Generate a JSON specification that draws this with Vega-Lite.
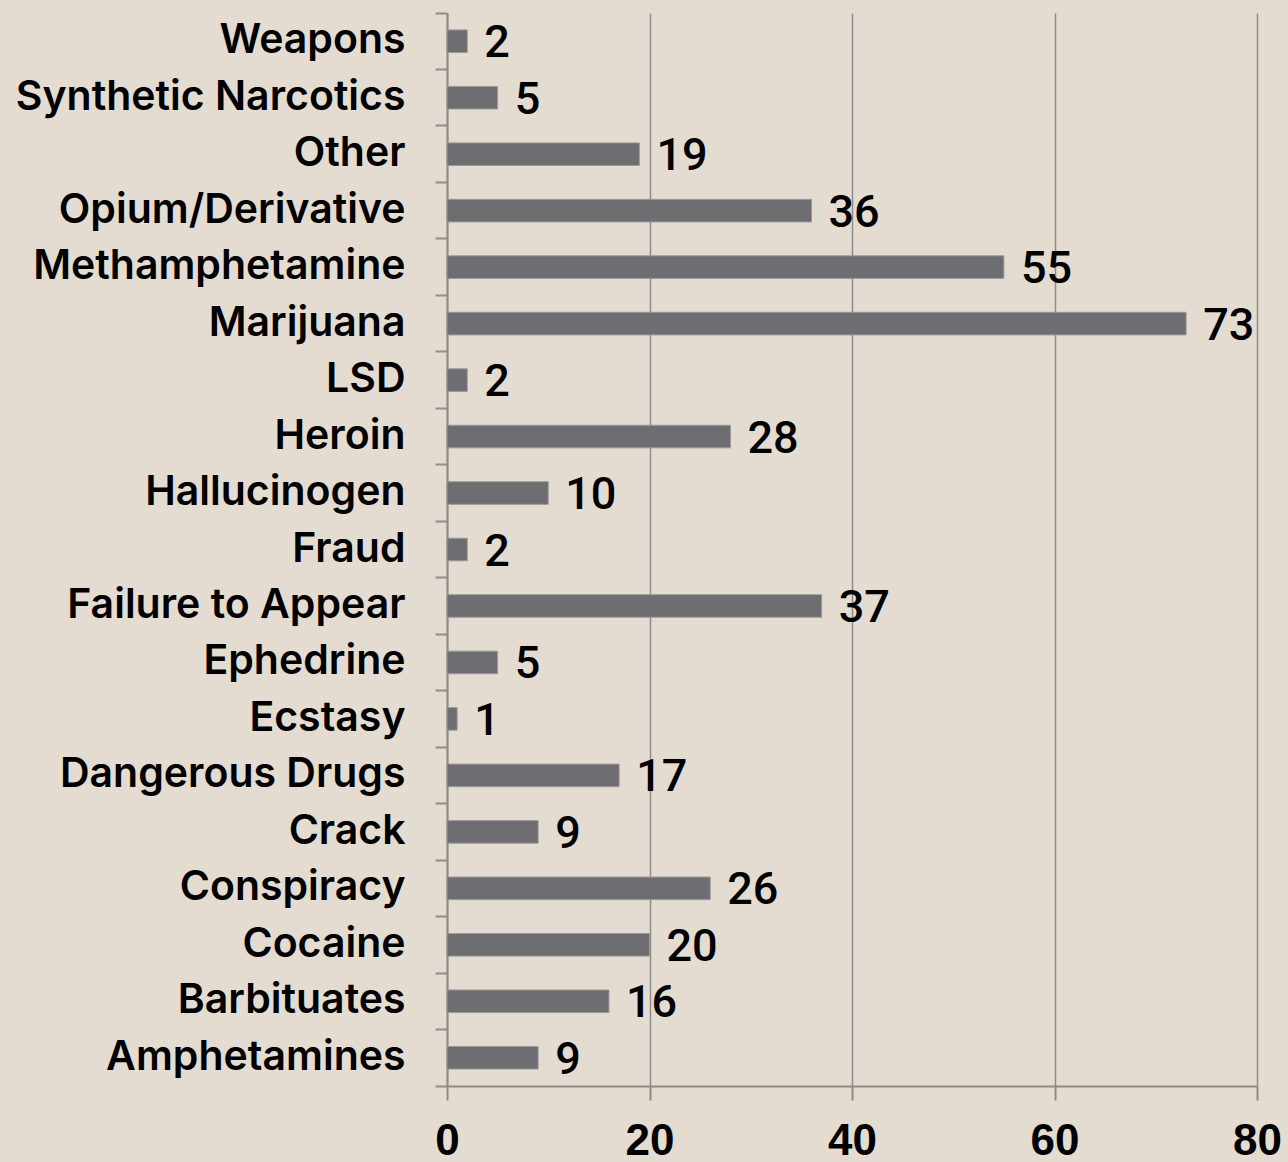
{
  "$schema": "https://vega.github.io/schema/vega-lite/v6.json",
  "width": 810,
  "height": 1073,
  "autosize": {"type": "none"},
  "padding": {"left": 447, "top": 13, "right": 31, "bottom": 76},
  "background": "#e4dcd0",
  "config": {
    "view": {"stroke": null},
    "font": "Inter"
  },
  "data": {
    "values": [
      {"offense": "Weapons", "count": 2},
      {"offense": "Synthetic Narcotics", "count": 5},
      {"offense": "Other", "count": 19},
      {"offense": "Opium/Derivative", "count": 36},
      {"offense": "Methamphetamine", "count": 55},
      {"offense": "Marijuana", "count": 73},
      {"offense": "LSD", "count": 2},
      {"offense": "Heroin", "count": 28},
      {"offense": "Hallucinogen", "count": 10},
      {"offense": "Fraud", "count": 2},
      {"offense": "Failure to Appear", "count": 37},
      {"offense": "Ephedrine", "count": 5},
      {"offense": "Ecstasy", "count": 1},
      {"offense": "Dangerous Drugs", "count": 17},
      {"offense": "Crack", "count": 9},
      {"offense": "Conspiracy", "count": 26},
      {"offense": "Cocaine", "count": 20},
      {"offense": "Barbituates", "count": 16},
      {"offense": "Amphetamines", "count": 9}
    ]
  },
  "encoding": {
    "y": {
      "field": "offense",
      "type": "nominal",
      "sort": null,
      "scale": {"paddingInner": 0, "paddingOuter": 0},
      "axis": {
        "title": null,
        "domainColor": "#8c8c8c",
        "domainWidth": 2,
        "tickColor": "#8c8c8c",
        "tickWidth": 2,
        "tickSize": 12,
        "bandPosition": 1,
        "tickExtra": true,
        "labelFontSize": 41,
        "labelFont": "Inter",
        "labelFontWeight": 600,
        "labelColor": "#000000",
        "labelPadding": 30,
        "labelLimit": 500
      }
    },
    "x": {
      "field": "count",
      "type": "quantitative",
      "scale": {"domain": [0, 80], "nice": false},
      "axis": {
        "title": null,
        "values": [0, 20, 40, 60, 80],
        "grid": true,
        "gridColor": "#8c8c8c",
        "gridWidth": 1.5,
        "domainColor": "#8c8c8c",
        "domainWidth": 2,
        "tickColor": "#8c8c8c",
        "tickWidth": 2,
        "tickSize": 14,
        "labelFontSize": 44,
        "labelFont": "Liberation Sans",
        "labelFontWeight": "bold",
        "labelColor": "#000000",
        "labelPadding": 19,
        "labelFlush": false,
        "labelOverlap": false
      }
    }
  },
  "layer": [
    {
      "mark": {"type": "bar", "color": "#6e6d72", "stroke": "#9a9a9c", "strokeWidth": 1, "height": {"band": 0.4}}
    },
    {
      "mark": {"type": "text", "align": "left", "baseline": "middle", "dx": 17, "dy": 2, "fontSize": 45, "fontWeight": 500, "color": "#000000", "font": "Roboto"},
      "encoding": {"text": {"field": "count", "type": "quantitative"}}
    }
  ]
}
